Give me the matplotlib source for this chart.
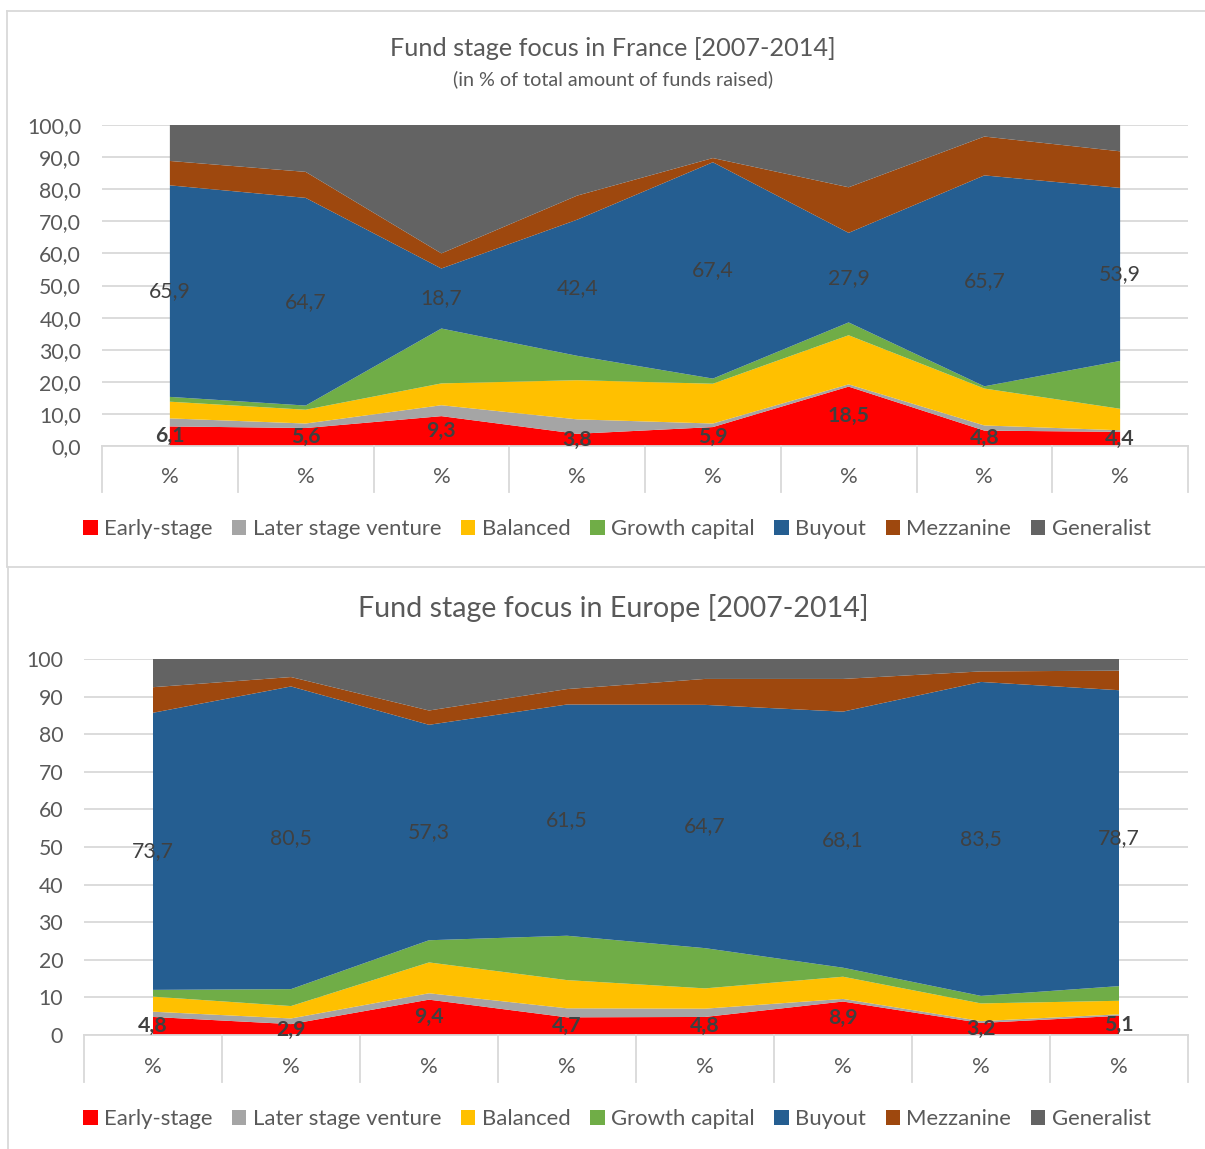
import matplotlib
matplotlib.use("Agg")
import matplotlib.pyplot as plt
from matplotlib.lines import Line2D
from matplotlib.patches import Patch
import numpy as np

plt.rcParams['font.family'] = ['Lato', 'DejaVu Sans']

# ---------------- data ----------------
categories = ['%', '%', '%', '%', '%', '%', '%', '%']
series_names = ['Early-stage', 'Later stage venture', 'Balanced', 'Growth capital',
                'Buyout', 'Mezzanine', 'Generalist']
colors = ['#FF0000', '#A5A5A5', '#FFC000', '#70AD47', '#255E91', '#9E480E', '#636363']

early_fr = [6.1, 5.6, 9.3, 3.8, 5.9, 18.5, 4.8, 4.4]
later_fr = [2.5, 1.4, 3.4, 4.5, 1.1, 0.7, 1.6, 0.5]
balanced_fr = [5.2, 4.3, 6.8, 12.2, 12.4, 15.3, 11.5, 6.7]
growth_fr = [1.5, 1.3, 17.1, 7.6, 1.6, 4.0, 0.7, 14.9]
buyout_fr = [65.9, 64.7, 18.7, 42.4, 67.4, 27.9, 65.7, 53.9]
mezz_fr = [7.6, 8.1, 4.7, 7.5, 1.3, 14.2, 12.1, 11.4]
general_fr = [11.2, 14.6, 40.0, 22.0, 10.3, 19.4, 3.6, 8.2]

early_eu = [4.8, 2.9, 9.4, 4.7, 4.8, 8.9, 3.2, 5.1]
later_eu = [1.4, 1.5, 1.7, 2.4, 2.2, 0.7, 0.5, 0.4]
balanced_eu = [4.0, 3.3, 8.2, 7.5, 5.4, 5.9, 4.7, 3.6]
growth_eu = [1.8, 4.5, 5.9, 11.8, 10.7, 2.4, 2.0, 3.9]
buyout_eu = [73.7, 80.5, 57.3, 61.5, 64.7, 68.1, 83.5, 78.7]
mezz_eu = [6.8, 2.5, 3.8, 4.1, 6.9, 8.7, 2.8, 5.2]
general_eu = [7.5, 4.8, 13.7, 8.0, 5.3, 5.3, 3.3, 3.1]

title_fr = 'Fund stage focus in France [2007-2014]'
subtitle_fr = '(in % of total amount of funds raised)'
title_eu = 'Fund stage focus in Europe [2007-2014]'

# ---------------- figure ----------------
W, H = 1205, 1149
fig = plt.figure(figsize=(W / 100, H / 100), dpi=100)
renderer = fig.canvas.get_renderer()

TXT = '#595959'
LBL = '#404040'
GRID = '#D9D9D9'


def size_for(text, target_px, weight='normal'):
    t = fig.text(0, 0, text, fontsize=10, weight=weight)
    w = t.get_window_extent(renderer).width
    t.remove()
    return 10 * target_px / w


fs_title_fr = size_for(title_fr, 446)
fs_sub = size_for(subtitle_fr, 321)
fs_title_eu = size_for(title_eu, 510)
fs_leg = size_for('Later stage venture', 188)
fs_tick = size_for('100,0', 54)
fs_lbl = size_for('65,9', 42)


def px_rect(left, top, right, bottom):
    return [left / W, 1 - bottom / H, (right - left) / W, (bottom - top) / H]


def fmt_comma(v, dec=1):
    return (f'{v:.{dec}f}').replace('.', ',')


def draw_chart(rect, data, ytick_dec, box_px, pct_px):
    ax = fig.add_axes(rect)
    x = np.arange(len(categories))
    ax.stackplot(x, *data, colors=colors, linewidth=0)
    ax.set_xlim(-0.5, len(categories) - 0.5)
    ax.set_ylim(0, 100)
    ax.set_yticks(np.arange(0, 101, 10))
    ax.set_yticklabels([fmt_comma(v, ytick_dec) if ytick_dec else f'{v:d}'
                        for v in range(0, 101, 10)])
    ax.tick_params(axis='y', length=0, pad=15, labelsize=fs_tick, labelcolor=TXT)
    ax.set_xticks([])
    for s in ax.spines.values():
        s.set_visible(False)
    ax.grid(axis='y', color=GRID, linewidth=1.3, zorder=0)
    ax.set_axisbelow(True)
    ax_h_px = rect[3] * H
    # category axis line and separators
    ax.axhline(0, color=GRID, linewidth=1.3, zorder=5, clip_on=False)
    tr = ax.get_xaxis_transform()
    for b in np.arange(-0.5, len(categories), 1.0):
        ax.plot([b, b], [0, -box_px / ax_h_px], color=GRID, linewidth=1.3,
                transform=tr, clip_on=False)
    for i, c in enumerate(categories):
        ax.text(i, -pct_px / ax_h_px, c, transform=tr, ha='center', va='center',
                fontsize=fs_leg, color=TXT)
    # data labels: Early-stage (bold) and Buyout
    cum = np.zeros(len(categories))
    for k, vals in enumerate(data):
        vals = np.array(vals)
        if k == 0:
            for i, v in enumerate(vals):
                ax.text(i, cum[i] + v / 2, fmt_comma(v), ha='center', va='center',
                        fontsize=fs_lbl, color=LBL, weight='bold', zorder=6)
        if k == 4:
            for i, v in enumerate(vals):
                ax.text(i, cum[i] + v / 2, fmt_comma(v), ha='center', va='center',
                        fontsize=fs_lbl, color=LBL, zorder=6)
        cum = cum + vals
    return ax


data_fr = [early_fr, later_fr, balanced_fr, growth_fr, buyout_fr, mezz_fr, general_fr]
data_eu = [early_eu, later_eu, balanced_eu, growth_eu, buyout_eu, mezz_eu, general_eu]

ax1 = draw_chart(px_rect(102, 125, 1188, 446), data_fr, 1, 46, 31)
ax2 = draw_chart(px_rect(84, 659, 1188, 1035), data_eu, 0, 47, 32)

# titles
fig.text(613 / W, 1 - 49 / H, title_fr, ha='center', va='center', fontsize=fs_title_fr, color=TXT)
fig.text(613 / W, 1 - 79 / H, subtitle_fr, ha='center', va='center', fontsize=fs_sub, color=TXT)
fig.text(613 / W, 1 - 608 / H, title_eu, ha='center', va='center', fontsize=fs_title_eu, color=TXT)

# legends
handles = [Patch(facecolor=c, edgecolor='none') for c in colors]
for ycen in (529, 1119):
    fig.legend(handles, series_names, loc='center', bbox_to_anchor=(617 / W, 1 - ycen / H),
               ncol=7, frameon=False, fontsize=fs_leg, labelcolor=TXT,
               handlelength=0.65, handleheight=0.65, handletextpad=0.3,
               columnspacing=0.88, borderpad=0, borderaxespad=0)

# chart frames
fl = dict(color=GRID, linewidth=1.3, transform=fig.transFigure)
fig.add_artist(Line2D([7 / W, 1], [1 - 11 / H, 1 - 11 / H], **fl))
fig.add_artist(Line2D([7 / W, 7 / W], [1 - 11 / H, 1 - 566 / H], **fl))
fig.add_artist(Line2D([7 / W, 1], [1 - 567 / H, 1 - 567 / H], **fl))
fig.add_artist(Line2D([8 / W, 8 / W], [1 - 567 / H, 0], **fl))

fig.savefig('out.png', dpi=100)
